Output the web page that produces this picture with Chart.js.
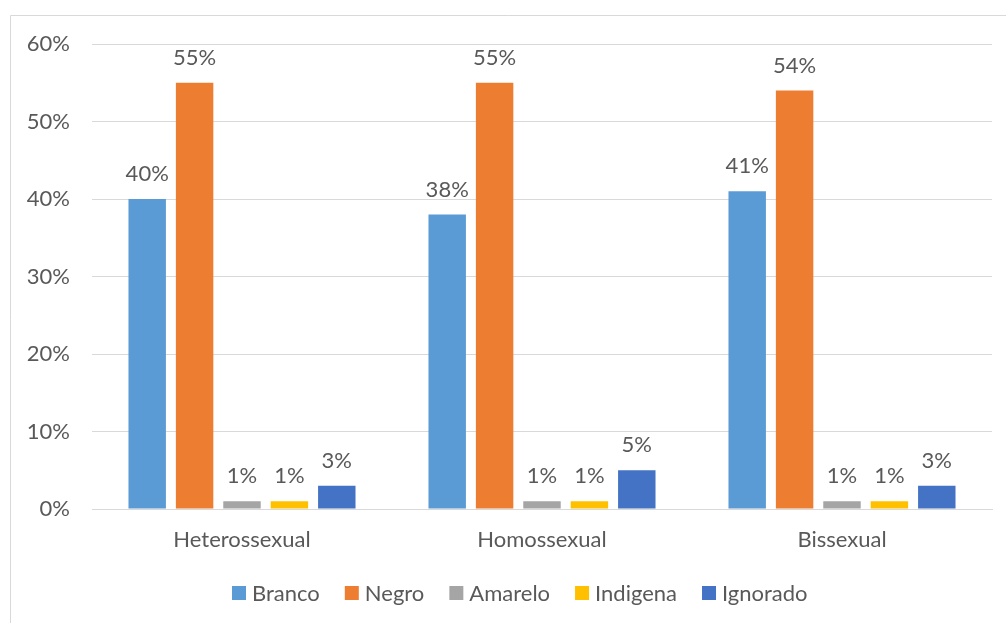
<!DOCTYPE html>
<html><head><meta charset="utf-8">
<script src="https://cdn.jsdelivr.net/npm/chart.js@4"></script>
<style>html,body{margin:0;padding:0;background:#fff;}#wrap{position:relative;width:1006px;height:623px;}</style>
</head><body><div id="wrap"><canvas id="c" width="1006" height="623"></canvas></div>
<script>
const categories = ["Heterossexual", "Homossexual", "Bissexual"];
const seriesNames = ["Branco", "Negro", "Amarelo", "Indigena", "Ignorado"];
const branco = [40, 38, 41];
const negro = [55, 55, 54];
const amarelo = [1, 1, 1];
const indigena = [1, 1, 1];
const ignorado = [3, 5, 3];
const yTicks = [0, 10, 20, 30, 40, 50, 60];
const colors = ["#5B9BD5", "#ED7D31", "#A5A5A5", "#FFC000", "#4472C4"];
const values = [branco, negro, amarelo, indigena, ignorado];
const FONT = "Lato, 'Open Sans', sans-serif";
const FS = 22;
const TXT = "#595959";

const frame = {
  id: "frame",
  beforeDraw(chart) {
    const c = chart.ctx;
    c.save();
    c.strokeStyle = "#D9D9D9";
    c.lineWidth = 1;
    c.beginPath();
    c.moveTo(10.5, 623);
    c.lineTo(10.5, 15.5);
    c.lineTo(1006, 15.5);
    c.stroke();
    c.restore();
  }
};
const labels = {
  id: "labels",
  afterDatasetsDraw(chart) {
    const c = chart.ctx;
    c.save();
    c.font = FS + "px " + FONT;
    c.fillStyle = TXT;
    c.textAlign = "center";
    c.textBaseline = "alphabetic";
    chart.data.datasets.forEach((ds, i) => {
      chart.getDatasetMeta(i).data.forEach((el, j) => {
        c.fillText(ds.data[j] + "%", el.x, el.y - 18);
      });
    });
    c.restore();
  }
};
const legendPlugin = {
  id: "customLegend",
  afterDraw(chart) {
    const c = chart.ctx;
    c.save();
    c.font = FS + "px " + FONT;
    c.textBaseline = "middle";
    c.textAlign = "left";
    let x = 232;
    const yc = 593;
    chart.data.datasets.forEach((ds) => {
      c.fillStyle = ds.backgroundColor;
      c.fillRect(x, yc - 7, 14, 14);
      c.fillStyle = TXT;
      c.fillText(ds.label, x + 20, yc + 1);
      x += 20 + c.measureText(ds.label).width + 25;
    });
    c.restore();
  }
};

new Chart(document.getElementById("c"), {
  type: "bar",
  data: {
    labels: categories,
    datasets: seriesNames.map((n, i) => ({
      label: n, data: values[i], backgroundColor: colors[i],
      categoryPercentage: 0.79, barPercentage: 0.79
    }))
  },
  options: {
    responsive: false, animation: false,
    layout: { padding: { left: 0, right: 14, top: 44, bottom: 0 } },
    plugins: {
      legend: { display: false },
      tooltip: { enabled: false }
    },
    scales: {
      x: {
        grid: { display: false },
        border: { color: "#D9D9D9" },
        afterFit(s) { s.height = 114; },
        ticks: { font: { family: FONT, size: FS }, color: TXT, padding: 10 }
      },
      y: {
        min: 0, max: 60,
        afterBuildTicks(s) { s.ticks = yTicks.map(v => ({ value: v })); },
        afterFit(s) { s.width = 92; },
        grid: { color: "#D9D9D9", drawTicks: false },
        border: { display: false },
        ticks: { font: { family: FONT, size: FS }, color: TXT, padding: 22, callback: v => v + "%" }
      }
    }
  },
  plugins: [frame, labels, legendPlugin]
});
</script></body></html>
